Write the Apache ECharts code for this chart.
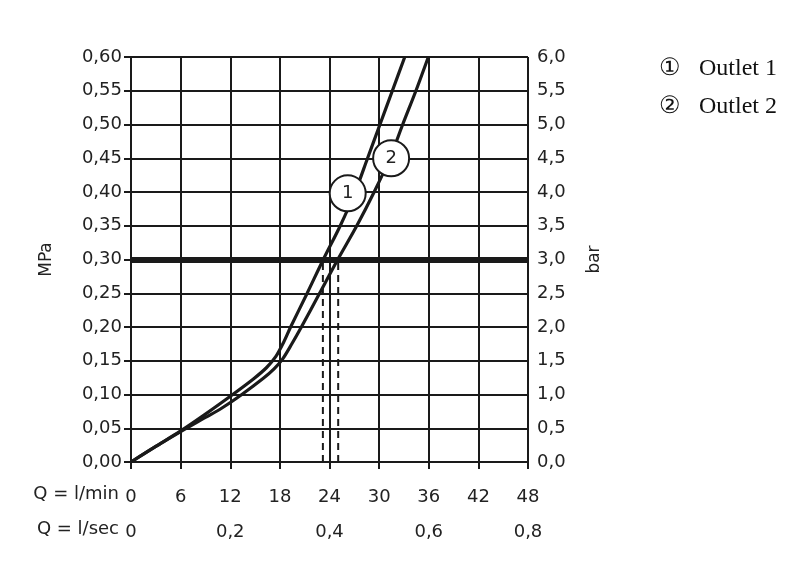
<!DOCTYPE html>
<html>
<head>
<meta charset="utf-8">
<script src="https://cdn.jsdelivr.net/npm/echarts@6/dist/echarts.min.js"></script>
<style>
  html, body { margin: 0; padding: 0; background: #fff; }
  #chart { width: 811px; height: 582px; }
</style>
</head>
<body>
<div id="chart"></div>
<script>
// flow in l/min, pressure in MPa
const outlet1 = [
  [0, 0], [3, 0.023], [6, 0.046], [9, 0.071], [12.3, 0.10], [14.8, 0.123],
  [16.4, 0.14], [17.5, 0.156], [18.4, 0.176], [19.3, 0.20], [21.3, 0.25],
  [23.25, 0.30], [25.3, 0.35], [27.1, 0.40], [28.6, 0.45], [30.1, 0.50],
  [31.6, 0.55], [33.1, 0.60]
];
const outlet2 = [
  [0, 0], [3, 0.023], [6, 0.045], [9, 0.066], [11, 0.08], [13.4, 0.10],
  [16.0, 0.124], [17.3, 0.138], [18.3, 0.152], [19.4, 0.174], [20.6, 0.20],
  [22.8, 0.25], [25.0, 0.30], [27.3, 0.35], [29.4, 0.40], [31.3, 0.45],
  [32.85, 0.50], [34.45, 0.55], [35.95, 0.60]
];
const seriesNames = ['Outlet 1', 'Outlet 2'];
const seriesMarks = ['\u2460', '\u2461'];
const refPressure = 0.3;
const flowAtRef = [23.2, 25.05];
const tagPos = [[26.2, 0.398], [31.45, 0.45]];

const fmtComma = (v, d) => v.toFixed(d).replace('.', ',');
const labelFont = { fontFamily: 'DejaVu Sans', fontSize: 18, color: '#222' };

const chart = echarts.init(document.getElementById('chart'));

const curveSeries = [outlet1, outlet2].map((data, i) => ({
  name: seriesNames[i],
  type: 'line',
  data: data,
  smooth: 0.3,
  showSymbol: false,
  z: 5,
  lineStyle: { color: '#1a1a1a', width: 3.2 },
  itemStyle: { color: '#1a1a1a' },
  markPoint: {
    symbol: 'circle',
    symbolSize: 36,
    z: 10,
    itemStyle: { color: '#fff', borderColor: '#1a1a1a', borderWidth: 2 },
    label: { show: true, formatter: String(i + 1), fontFamily: 'DejaVu Sans', fontSize: 18, color: '#222' },
    data: [{ coord: tagPos[i] }]
  }
}));

const dashSeries = flowAtRef.map((q) => ({
  type: 'line',
  data: [[q, 0], [q, refPressure]],
  showSymbol: false,
  silent: true,
  z: 3,
  lineStyle: { color: '#1a1a1a', width: 2, type: [7, 5] }
}));

chart.setOption({
  backgroundColor: '#fff',
  animation: false,
  grid: { left: 131, right: 283, top: 57, bottom: 120 },
  legend: {
    data: seriesNames,
    orient: 'vertical',
    left: 649,
    top: 52,
    icon: 'none',
    itemWidth: 0,
    itemGap: 14,
    selectedMode: false,
    formatter: (name) => seriesMarks[seriesNames.indexOf(name)] + '   ' + name,
    textStyle: { fontFamily: 'Liberation Serif', fontSize: 24, color: '#111' }
  },
  xAxis: [
    {
      type: 'value', min: 0, max: 48, interval: 6,
      axisLine: { lineStyle: { color: '#1a1a1a', width: 2 } },
      axisTick: { show: true, length: 7, lineStyle: { color: '#1a1a1a', width: 2 } },
      splitLine: { show: true, lineStyle: { color: '#1a1a1a', width: 2 } },
      axisLabel: Object.assign({ margin: 26 }, labelFont)
    },
    {
      type: 'value', min: 0, max: 48, interval: 12, position: 'bottom', offset: 35,
      axisLine: { show: false }, axisTick: { show: false }, splitLine: { show: false },
      axisLabel: Object.assign({
        margin: 26,
        formatter: (v) => (v === 0 ? '0' : fmtComma(v / 60, 1))
      }, labelFont)
    }
  ],
  yAxis: [
    {
      type: 'value', min: 0, max: 0.6, interval: 0.05,
      name: 'MPa', nameLocation: 'middle', nameRotate: 90, nameGap: 76,
      nameTextStyle: { fontFamily: 'DejaVu Sans', fontSize: 17, color: '#222' },
      axisLine: { show: true, lineStyle: { color: '#1a1a1a', width: 2 } },
      axisTick: { show: true, length: 7, lineStyle: { color: '#1a1a1a', width: 2 } },
      splitLine: { show: true, lineStyle: { color: '#1a1a1a', width: 2 } },
      axisLabel: Object.assign({ margin: 9, formatter: (v) => fmtComma(v, 2) }, labelFont)
    },
    {
      type: 'value', min: 0, max: 6, interval: 0.5, position: 'right',
      name: 'bar', nameLocation: 'middle', nameRotate: 90, nameGap: 58,
      nameTextStyle: { fontFamily: 'DejaVu Sans', fontSize: 17, color: '#222' },
      axisLine: { show: true, lineStyle: { color: '#1a1a1a', width: 2 } },
      axisTick: { show: true, length: 7, lineStyle: { color: '#1a1a1a', width: 2 } },
      splitLine: { show: false },
      axisLabel: Object.assign({ margin: 9, formatter: (v) => fmtComma(v, 1) }, labelFont)
    }
  ],
  graphic: [
    { type: 'text', right: 811 - 119, top: 485, style: { text: 'Q = l/min', fill: '#222', font: '18px "DejaVu Sans"' } },
    { type: 'text', right: 811 - 119, top: 520, style: { text: 'Q = l/sec', fill: '#222', font: '18px "DejaVu Sans"' } }
  ],
  series: curveSeries.concat(dashSeries, [{
    type: 'line',
    data: [],
    silent: true,
    markLine: {
      symbol: 'none',
      silent: true,
      label: { show: false },
      lineStyle: { color: '#1a1a1a', width: 6, type: 'solid' },
      data: [{ yAxis: refPressure }]
    }
  }])
});
</script>
</body>
</html>
